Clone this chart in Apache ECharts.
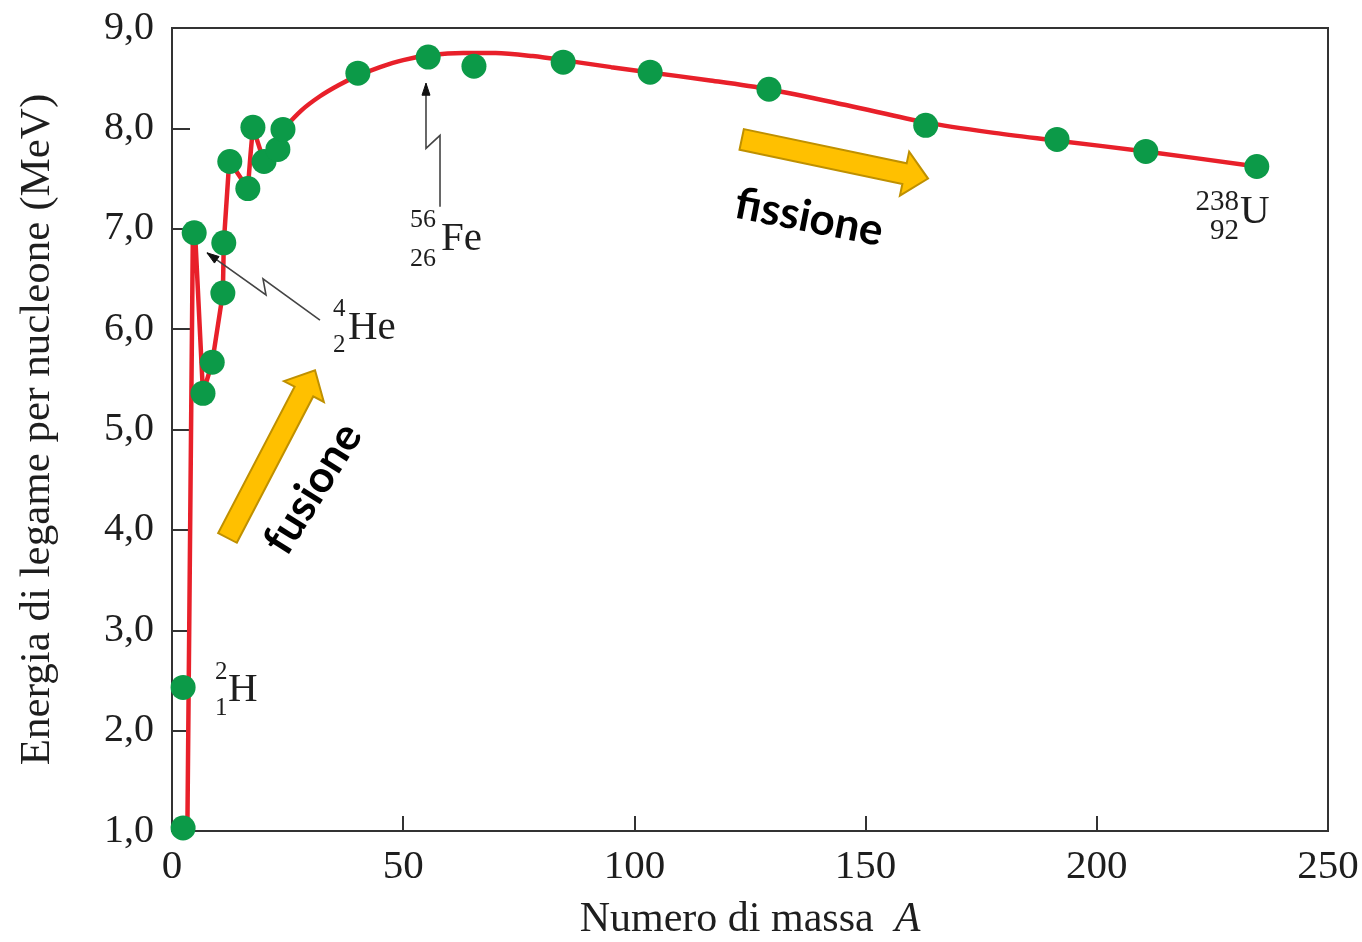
<!DOCTYPE html>
<html>
<head>
<meta charset="utf-8">
<script src="https://cdn.jsdelivr.net/npm/echarts@6/dist/echarts.min.js"></script>
<style>
html,body{margin:0;padding:0;background:#fff;}
#c{width:1362px;height:942px;}
</style>
</head>
<body>
<div id="c"></div>
<script>
// ---------- DATA ----------
const massNumbers     = [2.4, 2.4, 4.8, 6.7, 8.7, 11.0, 11.2, 12.5, 16.4, 17.5, 19.9, 22.9, 24.0, 40.2, 55.4, 65.3, 84.6, 103.4, 129.1, 163.0, 191.4, 210.6, 234.6];
const bindingEnergies = [1.03, 2.43, 6.96, 5.36, 5.67, 6.36, 6.86, 7.67, 7.40, 8.01, 7.67, 7.79, 7.99, 8.55, 8.71, 8.62, 8.66, 8.56, 8.39, 8.03, 7.89, 7.77, 7.62];

// red curve: jagged light-nuclei part
const curveLowA = [3.3, 4.5, 5.0, 6.7, 8.7, 11.0, 11.2, 12.2, 12.5, 16.4, 17.0, 17.5, 19.9, 22.9, 24.0];
const curveLowE = [0.9, 6.9, 6.95, 5.36, 5.67, 6.36, 6.86, 7.55, 7.67, 7.40, 7.75, 8.01, 7.67, 7.79, 7.99];
// red curve: smooth part
const curveHighA = [24.0, 28, 32, 36, 40, 45, 50, 56, 63, 70, 78, 86, 95, 103, 116, 129, 146, 163, 177, 191, 210.6, 234.6];
const curveHighE = [7.99, 8.18, 8.32, 8.43, 8.52, 8.61, 8.68, 8.73, 8.75, 8.75, 8.72, 8.67, 8.61, 8.56, 8.48, 8.39, 8.23, 8.06, 7.96, 7.88, 7.77, 7.62];

const xTickLabels = ['0', '50', '100', '150', '200', '250'];
const yTickLabels = ['1,0', '2,0', '3,0', '4,0', '5,0', '6,0', '7,0', '8,0', '9,0'];

const xTitle = 'Numero di massa';
const xTitleVar = 'A';
const yTitle = 'Energia di legame per nucleone (MeV)';
const fusionWord = 'fusione';
const fissionWord = 'fissione';

// nuclide labels: [superscript, subscript, symbol]
const labelH  = ['2', '1', 'H'];
const labelHe = ['4', '2', 'He'];
const labelFe = ['56', '26', 'Fe'];
const labelU  = ['238', '92', 'U'];

// ---------- ANNOTATION LAYOUT (data coordinates + pixel offsets) ----------
const SERIF = '"Liberation Serif","Times New Roman",serif';
const SANS = 'Lato,"Open Sans",sans-serif';
const INK = '#1e1e1e';

const nuclideLayout = [
  {lab: labelH,  at: [9.08, 2.404],  sup: [1, -17.5], sub: [1, 18.5], sym: [14, 0], supSize: 25, symSize: 41, align: 'left'},
  {lab: labelHe, at: [34.82, 6.005], sup: [0, -19],   sub: [0, 16.5], sym: [15, 0], supSize: 25, symSize: 41, align: 'left'},
  {lab: labelFe, at: [51.47, 6.90],  sup: [0, -18.5], sub: [0, 20],   sym: [31, 0], supSize: 26, symSize: 41, align: 'left'},
  {lab: labelU,  at: [230.97, 7.16], sup: [-1, -10.5],sub: [-1, 19],  sym: [0, 0],  supSize: 29, symSize: 41, align: 'right'}
];
const bigArrowLayout = [
  {from: [12.0, 3.92], to: [30.93, 5.59]},
  {from: [123.2, 7.89], to: [163.5, 7.50]}
];
const pointerLayout = [
  [[7.57, 6.76], [20.33, 6.34], [19.68, 6.50], [32.0, 6.09]],
  [[54.93, 8.45], [54.93, 7.80], [57.96, 7.93], [57.96, 7.22]]
];
const wordLayout = [
  {text: fusionWord,  at: [30.5, 4.41], rot: 58},
  {text: fissionWord, at: [137.76, 7.11], rot: -11}
];

function arrowPoly(T, P, w, hw, hl) {
  const dx = P[0] - T[0], dy = P[1] - T[1];
  const len = Math.hypot(dx, dy);
  const ux = dx / len, uy = dy / len;
  const nx = -uy, ny = ux;
  const B = [P[0] - ux * hl, P[1] - uy * hl];
  return [
    [T[0] + nx * w, T[1] + ny * w],
    [B[0] + nx * w, B[1] + ny * w],
    [B[0] + nx * hw, B[1] + ny * hw],
    [P[0], P[1]],
    [B[0] - nx * hw, B[1] - ny * hw],
    [B[0] - nx * w, B[1] - ny * w],
    [T[0] - nx * w, T[1] - ny * w]
  ];
}

function renderAnnotations(params, api) {
  const children = [];
  bigArrowLayout.forEach(a => {
    const T = api.coord(a.from), P = api.coord(a.to);
    children.push({type: 'polygon', shape: {points: arrowPoly(T, P, 10.5, 22.5, 24)},
      style: {fill: '#FFC000', stroke: '#BF9000', lineWidth: 2}});
  });
  pointerLayout.forEach(path => {
    const pts = path.map(p => api.coord(p));
    children.push({type: 'polyline', shape: {points: pts}, style: {stroke: '#444', lineWidth: 1.6, fill: null}});
    const tip = pts[0], nxt = pts[1];
    const dx = tip[0] - nxt[0], dy = tip[1] - nxt[1];
    const l = Math.hypot(dx, dy), ux = dx / l, uy = dy / l;
    const bx = tip[0] - ux * 12, by = tip[1] - uy * 12;
    children.push({type: 'polygon', shape: {points: [[tip[0], tip[1]], [bx - uy * 4, by + ux * 4], [bx + uy * 4, by - ux * 4]]},
      style: {fill: '#111', stroke: '#111', lineWidth: 1}});
  });
  nuclideLayout.forEach(n => {
    const p = api.coord(n.at);
    children.push({type: 'text', x: p[0] + n.sup[0], y: p[1] + n.sup[1],
      style: {text: n.lab[0], fontSize: n.supSize, fontFamily: SERIF, fill: INK, align: n.align, verticalAlign: 'middle'}});
    children.push({type: 'text', x: p[0] + n.sub[0], y: p[1] + n.sub[1],
      style: {text: n.lab[1], fontSize: n.supSize, fontFamily: SERIF, fill: INK, align: n.align, verticalAlign: 'middle'}});
    children.push({type: 'text', x: p[0] + n.sym[0], y: p[1] + n.sym[1],
      style: {text: n.lab[2], fontSize: n.symSize, fontFamily: SERIF, fill: INK, align: 'left', verticalAlign: 'middle'}});
  });
  wordLayout.forEach(w => {
    const p = api.coord(w.at);
    children.push({type: 'text', x: p[0], y: p[1], rotation: w.rot * Math.PI / 180,
      style: {text: w.text, fontSize: 44, fontWeight: 'bold', fontFamily: SANS, fill: '#000', align: 'center', verticalAlign: 'middle'}});
  });
  return {type: 'group', children: children};
}

const chart = echarts.init(document.getElementById('c'));
const axisColor = '#333';
chart.setOption({
  animation: false,
  backgroundColor: '#fff',
  grid: {left: 172, right: 34, top: 28, bottom: 111, show: true, borderColor: axisColor, borderWidth: 2,
    containLabel: false, outerBoundsMode: 'none'},
  xAxis: {
    type: 'value', min: 0, max: 250, interval: 50,
    axisLine: {show: true, onZero: false, lineStyle: {color: axisColor, width: 2}},
    axisTick: {show: true, inside: true, length: 15, lineStyle: {color: axisColor, width: 2}},
    splitLine: {show: false},
    axisLabel: {fontFamily: SERIF, fontSize: 41, color: INK, margin: 16,
      formatter: v => xTickLabels[Math.round(v / 50)]},
    name: xTitle + '  {i|' + xTitleVar + '}',
    nameLocation: 'middle', nameGap: 68,
    nameTextStyle: {fontFamily: SERIF, fontSize: 42, color: INK,
      rich: {i: {fontFamily: SERIF, fontSize: 42, fontStyle: 'italic', color: INK}}}
  },
  yAxis: {
    type: 'value', min: 1, max: 9, interval: 1,
    axisLine: {show: true, onZero: false, lineStyle: {color: axisColor, width: 2}},
    axisTick: {show: true, inside: true, length: 18, lineStyle: {color: axisColor, width: 2}},
    splitLine: {show: false},
    axisLabel: {fontFamily: SERIF, fontSize: 40, color: INK, margin: 18,
      formatter: v => yTickLabels[Math.round(v) - 1]},
    name: yTitle, nameLocation: 'middle', nameRotate: 90, nameGap: 113,
    nameTextStyle: {fontFamily: SERIF, fontSize: 43, color: INK}
  },
  series: [
    {type: 'line', name: 'low', data: curveLowA.map((a, i) => [a, curveLowE[i]]),
      showSymbol: false, smooth: false, lineStyle: {color: '#E8202A', width: 4.5}, z: 2},
    {type: 'line', name: 'high', data: curveHighA.map((a, i) => [a, curveHighE[i]]),
      showSymbol: false, smooth: 0.3, lineStyle: {color: '#E8202A', width: 4.5}, z: 2},
    {type: 'scatter', name: 'nuclei', data: massNumbers.map((a, i) => [a, bindingEnergies[i]]),
      symbolSize: 25, itemStyle: {color: '#0C9A48', opacity: 1}, z: 3},
    {type: 'custom', name: 'annotations', data: [[0, 1]], renderItem: renderAnnotations, z: 4, silent: true}
  ]
});
</script>
</body>
</html>
